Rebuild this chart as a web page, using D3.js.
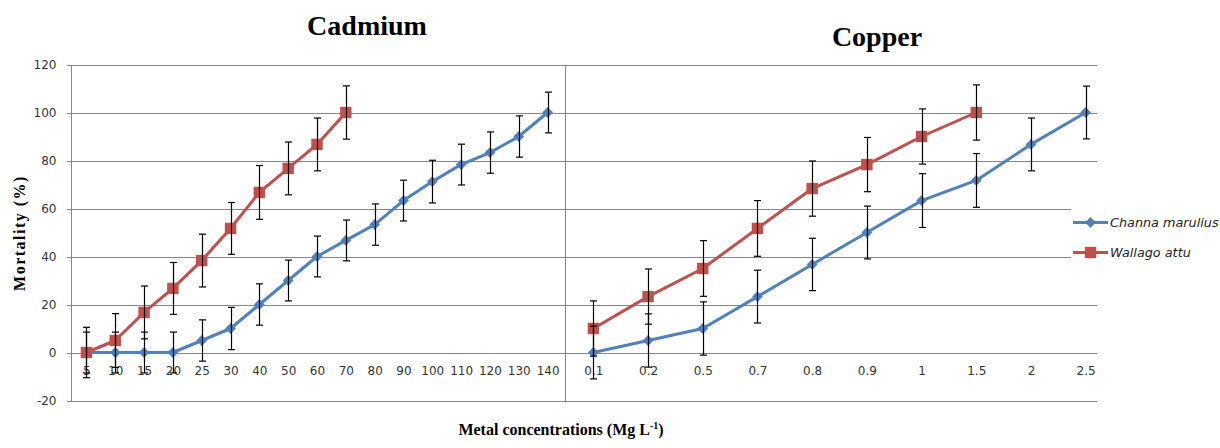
<!DOCTYPE html>
<meta charset="utf-8">
<style>
body { margin: 0; background: #fff; }
.grid line { stroke: #878787; stroke-width: 1px; shape-rendering: crispEdges; }
.tick text { font-family: "DejaVu Sans", sans-serif; font-size: 12px; fill: #333; }
.title { font-family: "Liberation Serif", "Times New Roman", serif; font-weight: bold; font-size: 28px; fill: #000; }
.label { font-family: "Liberation Serif", "Times New Roman", serif; font-weight: bold; font-size: 16px; fill: #000; }
.legend text { font-family: "DejaVu Sans", sans-serif; font-style: italic; font-size: 12.8px; fill: #222; }
.err { stroke: #000; stroke-width: 1.2px; fill: none; }
</style>
<body>
<script src="https://d3js.org/d3.v7.min.js"></script>
<script>
// cadmium panel
var cdConc = ["5", "10", "15", "20", "25", "30", "40", "50", "60", "70", "80", "90", "100", "110", "120", "130", "140"];
var cdChanna = [0, 0, 0, 0, 5, 10, 20, 30, 40, 46.7, 53.3, 63.3, 71.2, 78.3, 83.3, 90, 100];
var cdChannaErr = [8.5, 8.5, 8.5, 8.5, 8.6, 8.8, 8.6, 8.5, 8.5, 8.5, 8.6, 8.5, 8.9, 8.5, 8.6, 8.6, 8.5];
var cdWallago = [0, 5, 16.7, 26.7, 38.3, 51.7, 66.7, 76.7, 86.7, 100];
var cdWallagoErr = [10.5, 11.2, 11, 10.8, 11, 10.8, 11.2, 11, 11, 11.1];

// copper panel
var cuConc = ["0.1", "0.2", "0.5", "0.7", "0.8", "0.9", "1", "1.5", "2", "2.5"];
var cuChanna = [0, 5, 10, 23.3, 36.7, 50, 63.3, 71.7, 86.7, 100];
var cuChannaErr = [11, 11.1, 11.1, 11, 10.9, 11, 11.2, 11.2, 11, 11];
var cuWallago = [10, 23.3, 35, 51.7, 68.3, 78.3, 90, 100];
var cuWallagoErr = [11.5, 11.5, 11.6, 11.6, 11.5, 11.3, 11.5, 11.5];

var yTicks = [-20, 0, 20, 40, 60, 80, 100, 120];
var seriesNames = ["Channa marulius", "Wallago attu"];
var blue = "#4f81bd", red = "#c0504d";

var width = 1220, height = 448;
var svg = d3.select("body").append("svg")
    .attr("width", width)
    .attr("height", height);

var y = d3.scaleLinear().domain([-20, 120]).range([400.5, 64.5]);

// x scales for the two panels
var xCd = d3.scalePoint().domain(cdConc).range([72, 562]).padding(0.5);
var xCu = d3.scalePoint().domain(cuConc).range([566, 1113]).padding(0.5);

var divider = 565.5, left = 71.5, right = 1097;

// gridlines
var grid = svg.append("g").attr("class", "grid");
yTicks.forEach(function(t) {
  var yy = Math.round(y(t)) + 0.5;
  if (t === 0) {
    grid.append("line").attr("x1", left - 5).attr("x2", 562).attr("y1", yy).attr("y2", yy);
    grid.append("line").attr("x1", divider - 4).attr("x2", right).attr("y1", yy).attr("y2", yy);
  } else {
    var end = (t === 40 || t === 60) ? 1071 : right;
    grid.append("line").attr("x1", left - 5).attr("x2", end).attr("y1", yy).attr("y2", yy);
  }
});
grid.append("line").attr("x1", left).attr("x2", left).attr("y1", y(120)).attr("y2", y(-20));
grid.append("line").attr("x1", divider).attr("x2", divider).attr("y1", y(120)).attr("y2", y(-20));

// y axis labels
svg.append("g")
    .attr("transform", "translate(" + left + ",0)")
    .call(d3.axisLeft(y).tickValues(yTicks).tickSize(0).tickPadding(15).tickFormat(function(d) { return String(d); }))
    .call(function(g) { g.select(".domain").remove(); });

// x axis labels (sit inside the plot, just under zero)
function xLabels(x) {
  svg.append("g")
      .attr("transform", "translate(0," + (y(0) + 14) + ")")
      .call(d3.axisBottom(x).tickSize(0).tickPadding(0))
      .call(function(g) { g.select(".domain").remove(); });
}
xLabels(xCd);
xLabels(xCu);

// marker shapes: excel style diamond is a square turned 45 deg
function marker(sel, shape, color) {
  var size = shape === "diamond" ? 58 : 130;
  sel.attr("fill", color)
     .attr("d", d3.symbol().type(d3.symbolSquare).size(size));
}

// draw one series
function drawSeries(x, cats, vals, errs, color, shape) {
  var pts = vals.map(function(v, i) { return { c: cats[i], v: v, e: errs[i] }; });
  var g = svg.append("g");
  g.append("path")
      .datum(pts)
      .attr("fill", "none")
      .attr("stroke", color)
      .attr("stroke-width", 3)
      .attr("stroke-linejoin", "round")
      .attr("d", d3.line()
        .x(function(d) { return x(d.c); })
        .y(function(d) { return y(d.v); }));
  g.selectAll(".mark")
      .data(pts)
    .enter().append("path")
      .call(marker, shape, color)
      .attr("transform", function(d) {
        return "translate(" + x(d.c) + "," + y(d.v) + ")" + (shape === "diamond" ? " rotate(45)" : "");
      });
  return pts;
}

function drawErrors(x, pts) {
  var g = svg.append("g");
  pts.forEach(function(d) {
    var cx = Math.round(x(d.c)) + 0.5;
    var top = y(d.v + d.e), bot = y(d.v - d.e);
    g.append("line").attr("class", "err").attr("x1", cx).attr("x2", cx).attr("y1", top).attr("y2", bot);
    g.append("line").attr("class", "err").attr("x1", cx - 3.5).attr("x2", cx + 3.5).attr("y1", top).attr("y2", top);
    g.append("line").attr("class", "err").attr("x1", cx - 3.5).attr("x2", cx + 3.5).attr("y1", bot).attr("y2", bot);
  });
}

var p1 = drawSeries(xCd, cdConc, cdChanna, cdChannaErr, blue, "diamond");
var p2 = drawSeries(xCd, cdConc, cdWallago, cdWallagoErr, red, "square");
var p3 = drawSeries(xCu, cuConc, cuChanna, cuChannaErr, blue, "diamond");
var p4 = drawSeries(xCu, cuConc, cuWallago, cuWallagoErr, red, "square");
[[xCd, p1], [xCd, p2], [xCu, p3], [xCu, p4]].forEach(function(a) { drawErrors(a[0], a[1]); });

// titles
svg.append("text").attr("class", "title").attr("x", 367).attr("y", 35)
    .attr("text-anchor", "middle").text("Cadmium");
svg.append("text").attr("class", "title").attr("x", 877).attr("y", 46)
    .attr("text-anchor", "middle").text("Copper");

// axis titles
var xt = svg.append("text").attr("class", "label").attr("x", 561).attr("y", 435)
    .attr("text-anchor", "middle");
xt.append("tspan").text("Metal concentrations (Mg L");
xt.append("tspan").attr("font-size", "10px").attr("dy", -6).text("-1");
xt.append("tspan").attr("dy", 6).text(")");

svg.append("text").attr("class", "label")
    .attr("transform", "translate(25,233) rotate(-90)")
    .attr("text-anchor", "middle")
    .attr("letter-spacing", 1.5)
    .text("Mortality (%)");

// legend
var legend = svg.append("g").attr("class", "legend");
[[blue, "diamond", 222.5], [red, "square", 252.5]].forEach(function(l, i) {
  legend.append("line")
      .attr("x1", 1073).attr("x2", 1108).attr("y1", l[2]).attr("y2", l[2])
      .attr("stroke", l[0]).attr("stroke-width", 3);
  legend.append("path")
      .call(marker, l[1], l[0])
      .attr("transform", "translate(1090.5," + l[2] + ")" + (l[1] === "diamond" ? " rotate(45)" : ""));
  legend.append("text")
      .attr("x", 1110).attr("y", l[2] + 4.5)
      .text(seriesNames[i]);
});
</script>
</body>
